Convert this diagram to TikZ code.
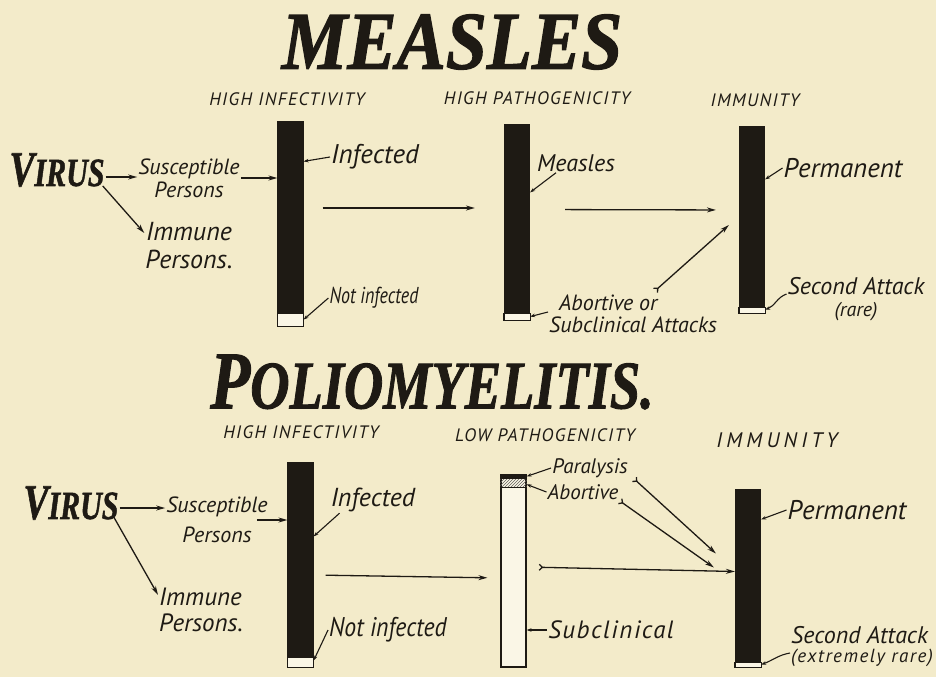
\documentclass[tikz,border=0pt]{standalone}
\usepackage{fontspec}
\usepackage{tikz}
\usetikzlibrary{arrows.meta, calc, patterns}
\newfontfamily\handfont{PT Sans}
\newfontfamily\titlefont{Liberation Serif}[BoldItalicFeatures={FakeBold=1.5}]
\definecolor{paper}{HTML}{F3EBCA}
\definecolor{ink}{HTML}{1E1A14}
\definecolor{gap}{HTML}{FAF6E6}

\begin{document}
\begin{tikzpicture}[x=1pt, y=-1pt,
    bar/.style={draw=ink, line width=1.2pt, fill=ink, inner sep=0pt, minimum width=25pt},
    hand/.style={font=\handfont\itshape\fontsize{#1}{#1}\selectfont, text=ink, inner sep=1pt},
    hand/.default=22,
    head/.style={font=\handfont\itshape\fontsize{#1}{#1}\selectfont\addfontfeature{LetterSpace=8}, text=ink},
    head/.default=18,
    title/.style={font=\titlefont\bfseries\itshape, text=ink, inner sep=1pt},
    arr/.style={draw=ink, line width=1.3pt, -{Stealth[length=9pt, width=5pt]}},
    ptr/.style={draw=ink, line width=1.1pt, -{Stealth[length=5pt, width=3.5pt]}},
    tail/.style={{Straight Barb[reversed, length=3pt, width=6pt]}-{Stealth[length=9pt, width=5pt]}},
  ]
  \useasboundingbox (0,0) rectangle (936,677);
  \fill[paper] (0,0) rectangle (936,677);

  % bars, with the small light part at the foot
  \foreach \n/\x/\y/\h/\w in {mb1/290.5/224/204/13, mb2/517/222.5/195/7, mb3/752/220/186/6,
                               pb1/300.5/565/204/10, pb3/748/578.5/177/5} {
    \node[bar, minimum height=\h] (\n) at (\x,\y) {};
    \draw[ink, line width=1.2pt, fill=gap] ($(\n.south west)+(0,-\w)$) rectangle (\n.south east);
  }
  % low pathogenicity bar
  \node[bar, fill=gap, minimum height=192] (pb2) at (513.5,571) {};
  \fill[ink] (pb2.north west) rectangle ($(pb2.north east)+(0,5)$);
  \fill[pattern=north east lines, pattern color=ink!70] ($(pb2.north west)+(0,5)$) rectangle ($(pb2.north east)+(0,13)$);
  \draw[ink, line width=0.8pt] ($(pb2.north west)+(0,13)$) -- ($(pb2.north east)+(0,13)$);

  % ---------- measles ----------
  \node[title] (mtitle) at (452,42) {\scalebox{0.9}[1]{\fontsize{82}{82}\selectfont MEASLES}};
  \node[head] (mh1) at (287,99) {HIGH INFECTIVITY};
  \node[head] (mh2) at (537,98) {HIGH PATHOGENICITY};
  \node[head] (mh3) at (755,100) {IMMUNITY};

  \node[title] (mvirus) at (57,170) {\scalebox{0.75}[1]{\fontsize{50}{50}\selectfont V\fontsize{40}{40}\selectfont IRUS}};
  \node[hand, align=center] (msus) at (189,178) {Susceptible\\[1pt]Persons};
  \node[hand=26, align=center] (mimm) at (189,246) {Immune\\[2pt]Persons.};
  \node[hand=27] (minf) at (375,157) {Infected};
  \node[hand=23] (mnot) at (374,298) {\scalebox{0.78}[1]{Not infected}};
  \node[hand=24] (mmea) at (576,163) {Measles};
  \node[hand, align=left, anchor=west] (mabo) at (548,314) {\hspace*{10pt}Abortive or\\Subclinical Attacks};
  \node[hand=27] (mper) at (843,168) {Permanent};
  \node[hand=24, align=center] (msec) at (856,299) {Second Attack\\[-2pt]{\fontsize{20}{20}\selectfont(rare)}};

  \draw[arr] ([yshift=-7pt]mvirus.east) -- ([yshift=-7pt]mvirus.east -| msus.west);
  \draw[arr] ([xshift=-3pt,yshift=2pt]mvirus.south east) -- ([yshift=13pt]mimm.west);
  \draw[arr] (msus.east) -- (msus.east -| mb1.west);
  \draw[ptr] (minf.west) -- ([yshift=-40pt]mb1.north east);
  \draw[ptr] (mnot.west) -- ([yshift=7pt]mb1.south east);
  \draw[arr, shorten <=19pt, shorten >=29pt] ([yshift=16pt]mb1.east) -- ([yshift=16pt]mb1.east -| mb2.west);
  \draw[ptr] ([xshift=20pt]mmea.south west) -- ([yshift=-68pt]mb2.north east);
  \draw[ptr] ([yshift=2pt]mabo.west) -- ([yshift=4pt]mb2.south east);
  \draw[arr, shorten <=35pt, shorten >=23pt] ([yshift=13pt]mb2.east) -- ([yshift=10pt]mb3.west);
  \draw[arr, tail] ($(mabo.north west)+(107,-3)$) -- ($(mb3.west)+(-10,5)$);
  \draw[ptr] (mper.west) -- ([yshift=-53pt]mb3.north east);
  \draw[ptr] ([yshift=5pt]msec.west) to[out=200, in=20] ([yshift=4pt]mb3.south east);

  % ---------- poliomyelitis ----------
  \node[title] (ptitle) at (432,382) {\scalebox{0.8}[1]{\fontsize{82}{82}\selectfont P\fontsize{68}{68}\selectfont OLIOMYELITIS.}};
  \node[head] (ph1) at (301,432) {HIGH INFECTIVITY};
  \node[head] (ph2) at (545,435) {LOW PATHOGENICITY};
  \node[head=21] (ph3) at (777,440) {\addfontfeature{LetterSpace=20}IMMUNITY};

  \node[title] (pvirus) at (71,503) {\scalebox{0.75}[1]{\fontsize{50}{50}\selectfont V\fontsize{40}{40}\selectfont IRUS}};
  \node[hand, align=center] (psus) at (217,520) {Susceptible\\[8pt]Persons};
  \node[hand=25, align=left, anchor=west] (pimm) at (158,610) {Immune\\[1pt]Persons.};
  \node[hand=26] (pinf) at (373,500) {Infected};
  \node[hand=27] (pnot) at (388,630) {\scalebox{0.88}[1]{Not infected}};
  \node[hand=21] (ppar) at (590,468) {Paralysis};
  \node[hand=21] (pabo) at (583,492) {Abortive};
  \node[hand=25] (psub) at (611,630) {\addfontfeature{LetterSpace=6}Subclinical};
  \node[hand=27] (pper) at (847,510) {Permanent};
  \node[hand=24, align=left, anchor=west] (psec) at (790,647) {Second Attack\\[-5pt]{\fontsize{19}{19}\selectfont\addfontfeature{LetterSpace=8}(extremely rare)}};

  \draw[arr] ([yshift=-5pt]pvirus.east) -- ([yshift=-5pt]pvirus.east -| psus.west);
  \draw[arr] ([xshift=-6pt,yshift=4pt]pvirus.south east) -- ([yshift=-8pt]pimm.north west);
  \draw[arr] ([xshift=-12pt]psus.east) -- (psus.east -| pb1.west);
  \draw[ptr] ([xshift=10pt]pinf.south west) -- ([yshift=-74pt]pb1.north east);
  \draw[ptr] (pnot.west) -- ([yshift=7pt]pb1.south east);
  \draw[arr, shorten <=12pt, shorten >=13pt] ([yshift=-10pt]pb1.east) -- ([yshift=-7pt]pb2.west);
  \draw[ptr] (ppar.west) -- ([yshift=-2pt]pb2.north east);
  \draw[ptr] (pabo.west) -- ([yshift=-10pt]pb2.north east);
  \draw[arr, tail] ([xshift=5pt]ppar.south east) -- ($(pb3.west)+(-19,-25)$);
  \draw[arr, tail] (pabo.south east) -- ($(pb3.west)+(-21,-11)$);
  \draw[arr, tail, shorten <=12pt] ([yshift=4pt]pb2.east) -- ([yshift=7pt]pb3.west);
  \draw[ptr] (psub.west) -- (psub.west -| pb2.east);
  \draw[ptr] (pper.west) -- ([yshift=-30pt]pb3.north east);
  \draw[ptr] ([yshift=-6pt]psec.west) to[out=190, in=20] ([yshift=3pt]pb3.south east);
\end{tikzpicture}
\end{document}
